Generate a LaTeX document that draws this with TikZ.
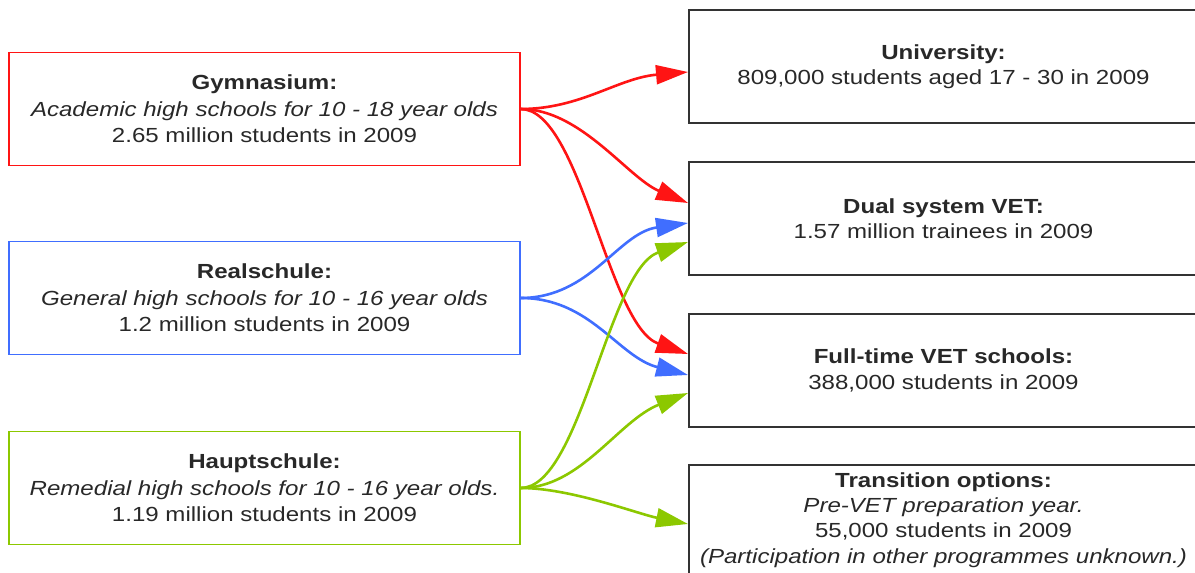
\documentclass[tikz,border=0pt]{standalone}
\usepackage{fontspec}
\setmainfont{Liberation Sans}[FakeStretch=1.18]
\usetikzlibrary{arrows.meta,calc}
\definecolor{gymred}{RGB}{255,20,20}
\definecolor{realblue}{RGB}{64,110,255}
\definecolor{hauptgreen}{RGB}{140,200,0}
\definecolor{txt}{RGB}{40,40,40}
\begin{document}
\begin{tikzpicture}[x=0.5pt,y=-0.5pt,
  lbox/.style={draw, line width=0.7pt, rectangle, minimum width=255.5pt,
    minimum height=56.5pt, inner sep=0pt, align=center, text=txt,
    font=\fontsize{10.2}{13.2}\selectfont},
  rbox/.style={draw=black!80, line width=1pt, rectangle, minimum width=254.5pt,
    minimum height=56.5pt, inner sep=0pt, align=center, text=txt,
    font=\fontsize{10.2}{12.6}\selectfont},
  flow/.style={line width=1.3pt, -{Triangle[length=16pt,width=9.5pt]}}]
\useasboundingbox (0,0) rectangle (1195,573);
\clip (0,0) rectangle (1195,573);

% school types
\node[lbox, draw=gymred] (gym) at (264.5,109)
  {\textbf{Gymnasium:}\\\textit{Academic high schools for 10 - 18 year olds}\\2.65 million students in 2009};
\node[lbox, draw=realblue] (real) at (264.5,298)
  {\textbf{Realschule:}\\\textit{General high schools for 10 - 16 year olds}\\1.2 million students in 2009};
\node[lbox, draw=hauptgreen] (haupt) at (264.5,488)
  {\textbf{Hauptschule:}\\\textit{Remedial high schools for 10 - 16 year olds.}\\1.19 million students in 2009};

% destinations
\node[rbox] (uni) at (943.5,66.5)
  {\textbf{University:}\\809,000 students aged 17 - 30 in 2009};
\node[rbox] (dual) at (943.5,218.5)
  {\textbf{Dual system VET:}\\1.57 million trainees in 2009};
\node[rbox] (full) at (943.5,370.5)
  {\textbf{Full-time VET schools:}\\388,000 students in 2009};
\node[rbox, minimum height=55pt] (trans) at (943.5,520)
  {\textbf{Transition options:}\\\textit{Pre-VET preparation year.}\\55,000 students in 2009\\\textit{(Participation in other programmes unknown.)}};

% flows from Gymnasium
\draw[flow, gymred] (gym.east) .. controls +(60,0) and +(-70,6) .. ($(uni.west)+(0,5.5)$);
\draw[flow, gymred] (gym.east) .. controls +(60,0) and +(-60,-25) .. ($(dual.west)+(0,-15.5)$);
\draw[flow, gymred] (gym.east) .. controls +(60,0) and +(-80,-28) .. ($(full.west)+(0,-16.5)$);

% flows from Realschule
\draw[flow, realblue] (real.east) .. controls +(70,0) and +(-70,10) .. ($(dual.west)+(0,4.5)$);
\draw[flow, realblue] (real.east) .. controls +(70,0) and +(-70,-18) .. ($(full.west)+(0,4.5)$);

% flows from Hauptschule
\draw[flow, hauptgreen] (haupt.east) .. controls +(60,0) and +(-80,28) .. ($(dual.west)+(0,23.5)$);
\draw[flow, hauptgreen] (haupt.east) .. controls +(60,0) and +(-70,28) .. ($(full.west)+(0,22.5)$);
\draw[flow, hauptgreen] (haupt.east) .. controls +(50,0) and +(-50,-10) .. ($(trans.west)+(0,4)$);
\end{tikzpicture}
\end{document}
